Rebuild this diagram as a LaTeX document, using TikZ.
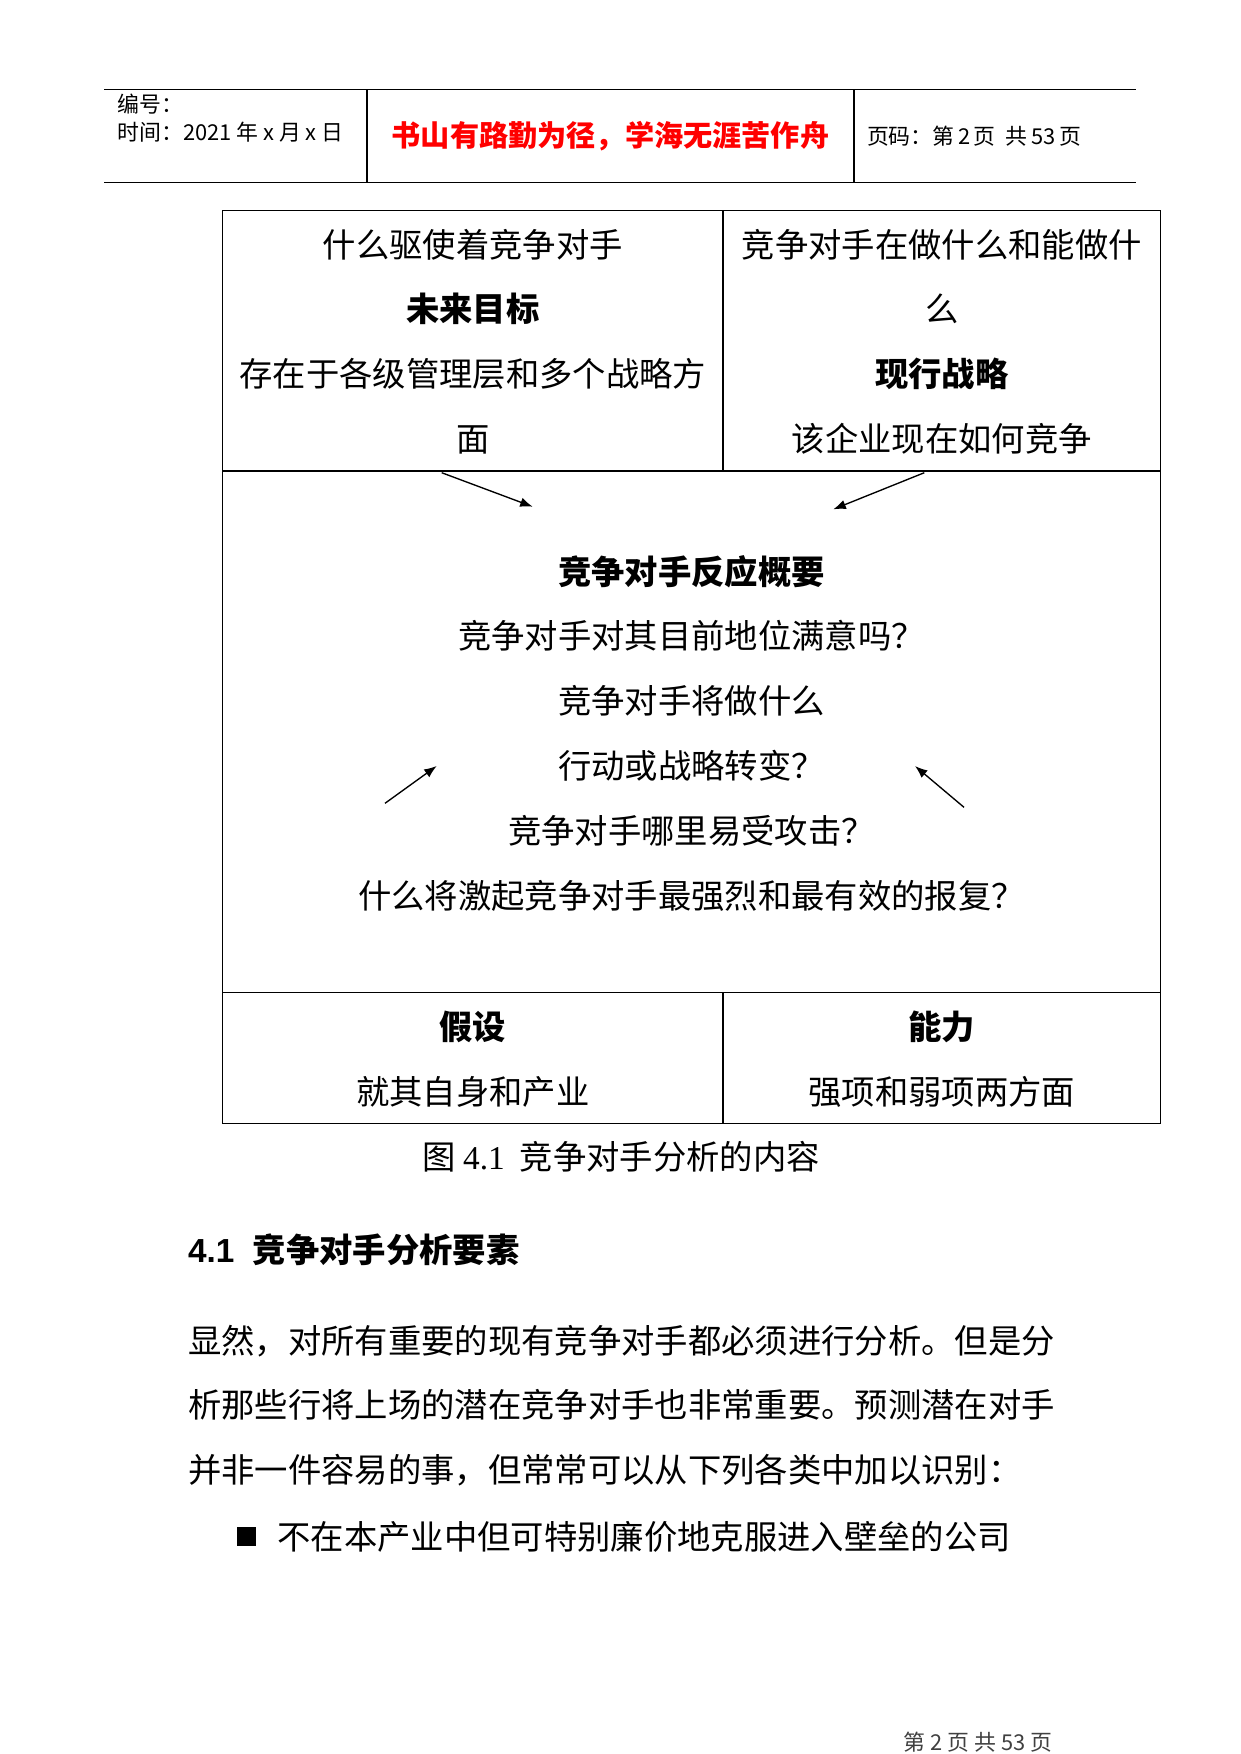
\documentclass[tikz,border=0pt]{standalone}
\usepackage{fontspec}
\setmainfont{Noto Sans CJK SC}
\newfontfamily\numserif{Liberation Serif}
\newfontfamily\numsans{Liberation Sans}
\usetikzlibrary{arrows.meta}
\definecolor{MottoRed}{HTML}{FF0000}
\definecolor{FootGray}{HTML}{404040}

\begin{document}
\begin{tikzpicture}[
    x=0.48pt, y=-0.48pt,
    every node/.style={inner sep=0pt, outer sep=0pt},
    small/.style={font=\fontsize{10.5}{13}\selectfont},
    motto/.style={font=\fontsize{14}{17}\selectfont\bfseries, color=MottoRed},
    cell/.style={font=\fontsize{16}{31.1}\selectfont, align=center},
    para/.style={font=\fontsize{16}{31.1}\selectfont, align=left},
    rule/.style={line width=0.75pt},
    frame/.style={line width=0.55pt},
    arrow/.style={-{Latex[length=6pt,width=4.6pt]}, line width=0.65pt}
  ]
    \useasboundingbox (0,0) rectangle (1241,1754);

    % page header
    \draw[rule] (104,89.5) -- (1136,89.5);
    \draw[rule] (104,182.4) -- (1136,182.4);
    \draw[rule] (367,89.5) -- (367,182.4);
    \draw[rule] (854,89.5) -- (854,182.4);
    \node[small, anchor=west] (docno) at (117.5,104) {编号：};
    \node[small, anchor=west] (docdate) at (117.5,132) {时间：2021\ 年\ x\ 月\ x\ 日};
    \node[motto] (motto) at (610.5,136.5) {书山有路勤为径，学海无涯苦作舟};
    \node[small, anchor=west] (pageno) at (867,136.5) {页码：第\,2\,页\ \ 共\,53\,页};

    % table frame
    \draw[frame] (222.7,210.4) rectangle (1160.4,1123.5);
    \draw[frame] (222.7,471) -- (1160.4,471);
    \draw[frame] (222.7,992.6) -- (1160.4,992.6);
    \draw[frame] (723,210.4) -- (723,471);
    \draw[frame] (723,992.6) -- (723,1123.5);

    % top cells
    \node[cell] (goals) at (472.9,341.5)
      {什么驱使着竞争对手\\{\bfseries 未来目标}\\存在于各级管理层和多个战略方\\面};
    \node[cell] (strategy) at (941.7,341.5)
      {竞争对手在做什么和能做什\\么\\{\bfseries 现行战略}\\该企业现在如何竞争};

    % response profile
    \node[cell] (profile) at (691.5,733)
      {{\bfseries 竞争对手反应概要}\\竞争对手对其目前地位满意吗？\\竞争对手将做什么\\行动或战略转变？\\竞争对手哪里易受攻击？\\什么将激起竞争对手最强烈和最有效的报复？};

    % bottom cells
    \node[cell] (assume) at (472.9,1059) {{\bfseries 假设}\\就其自身和产业};
    \node[cell] (capab) at (941.7,1059) {{\bfseries 能力}\\强项和弱项两方面};

    % arrows into the profile
    \coordinate (fromgoals) at (441.7,472.7);
    \coordinate (togoals) at (532.7,506.7);
    \coordinate (fromstrategy) at (924.3,472.7);
    \coordinate (tostrategy) at (833.3,509.3);
    \coordinate (fromassume) at (385,803.3);
    \coordinate (toassume) at (436.7,766);
    \coordinate (fromcapab) at (964,807.3);
    \coordinate (tocapab) at (915,766);
    \draw[arrow] (fromgoals) -- (togoals);
    \draw[arrow] (fromstrategy) -- (tostrategy);
    \draw[arrow] (fromassume) -- (toassume);
    \draw[arrow] (fromcapab) -- (tocapab);

    % caption and body text
    \node[cell] (caption) at (621,1157) {图 {\numserif 4.1}\ \ 竞争对手分析的内容};
    \node[para, anchor=west, font=\fontsize{16}{20}\selectfont\bfseries] (heading) at (188,1250)
      {{\numsans\bfseries 4.1}\hspace{0.55em}竞争对手分析要素};
    \node[para, anchor=west] (body) at (188,1405.5)
      {显然，对所有重要的现有竞争对手都必须进行分析。但是分\\析那些行将上场的潜在竞争对手也非常重要。预测潜在对手\\并非一件容易的事，但常常可以从下列各类中加以识别：};
    \fill (236.7,1527.3) rectangle (255.7,1545.7);
    \node[para, anchor=west] (bullet) at (277.5,1536.4)
      {不在本产业中但可特别廉价地克服进入壁垒的公司};

    % page footer
    \node[small, color=FootGray] (footer) at (978,1742) {第\ 2\ 页\ 共\ 53\ 页};
  \end{tikzpicture}
\end{document}
